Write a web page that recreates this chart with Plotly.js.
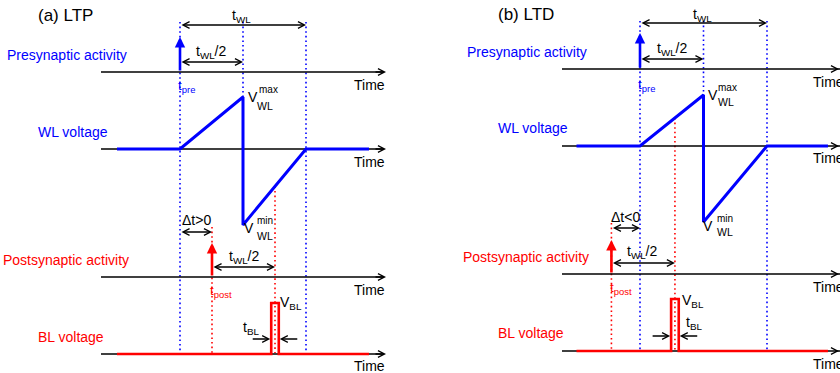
<!DOCTYPE html>
<html><head><meta charset="utf-8">
<script src="https://cdn.plot.ly/plotly-3.0.1.min.js"></script>
<style>html,body{margin:0;padding:0;background:#fff}#chart{width:840px;height:373px}</style>
</head><body><div id="chart"></div>
<script>
// ---------------- data (time in units of t_WL, voltages normalised) ----------------
const panelTitles = ['(a) LTP', '(b) LTD'];
const deltaLabels = ['\u0394t>0', '\u0394t<0'];
const rowLabels = ['Presynaptic activity', 'WL voltage', 'Postsynaptic activity', 'BL voltage'];
const axisLabel = 'Time';
const tPre = [0, 0];
const tPost = [0.254, -0.225];
const tWL = 1;
const spikeHeight = [1, 1];
// WL voltage waveform (sawtooth)
const wlTimeA = [-0.5, 0, 0.5, 0.5, 1, 1.5];
const wlVoltA = [0, 0, 1, -1.46, 0, 0];
const wlTimeB = [-0.5, 0, 0.5, 0.5, 1, 1.48];
const wlVoltB = [0, 0, 1, -1.49, 0, 0];
// BL voltage waveform (short pulse of width t_BL at t_post + t_WL/2)
const blTimeA = [-0.5, 0.724, 0.724, 0.784, 0.784, 1.5];
const blVoltA = [0, 0, 1, 1, 0, 0];
const blTimeB = [-0.5, 0.245, 0.245, 0.305, 0.305, 1.48];
const blVoltB = [0, 0, 1, 1, 0, 0];

// ---------------- geometry / styling ----------------
const W = 840, H = 373;
const BLUE = '#0000ff', RED = '#ff0000', BLACK = '#000000';
const FONT = 'Liberation Sans, Arial, Helvetica, sans-serif';
const geo = [
  {x0: 180, k: 126, rows: [[72, 35], [149, 52], [277, 34], [354, 51]], axS: 101, axE: 386,
   dotTop: 22, dotBot: 353, yTWL: 25, yTWL2: 62, yDt: 232, yTWL2b: 267, yTBL: 339},
  {x0: 640, k: 127, rows: [[69, 36], [146, 51], [274, 34], [351, 52]], axS: 562, axE: 846,
   dotTop: 21, dotBot: 350, yTWL: 23, yTWL2: 59, yDt: 228, yTWL2b: 263, yTBL: 336}
];
const P = (py) => 1 - py / H;
const layout = {
  width: W, height: H, margin: {l: 0, r: 0, t: 0, b: 0},
  paper_bgcolor: '#fff', plot_bgcolor: 'rgba(0,0,0,0)', showlegend: false,
  font: {family: FONT, size: 14, color: BLACK},
  shapes: [], annotations: []
};
// x axes: one per panel, y axes: one per row per panel
geo.forEach((g, p) => {
  const xn = p === 0 ? 'xaxis' : 'xaxis2';
  layout[xn] = {range: [-g.x0 / g.k, (W - g.x0) / g.k], domain: [0, 1], visible: false, fixedrange: true};
  if (p === 1) layout[xn].overlaying = 'x';
  g.rows.forEach((r, i) => {
    const id = p * 4 + i + 1;
    const yn = id === 1 ? 'yaxis' : 'yaxis' + id;
    const [b, A] = r;
    layout[yn] = {range: [(b - H) / A, b / A], domain: [0, 1], visible: false, fixedrange: true,
                  anchor: p === 0 ? 'x' : 'x2'};
    if (id > 1) layout[yn].overlaying = 'y';
  });
});
const xr = (p) => p === 0 ? 'x' : 'x2';
const yr = (p, i) => { const id = p * 4 + i + 1; return id === 1 ? 'y' : 'y' + id; };

// ---------------- traces ----------------
const traces = [
  {x: wlTimeA, y: wlVoltA, xaxis: 'x', yaxis: yr(0, 1), mode: 'lines', line: {color: BLUE, width: 3}, hoverinfo: 'skip'},
  {x: blTimeA, y: blVoltA, xaxis: 'x', yaxis: yr(0, 3), mode: 'lines', line: {color: RED, width: 2.6}, hoverinfo: 'skip'},
  {x: wlTimeB, y: wlVoltB, xaxis: 'x2', yaxis: yr(1, 1), mode: 'lines', line: {color: BLUE, width: 3}, hoverinfo: 'skip'},
  {x: blTimeB, y: blVoltB, xaxis: 'x2', yaxis: yr(1, 3), mode: 'lines', line: {color: RED, width: 2.6}, hoverinfo: 'skip'}
];
const blTimes = [blTimeA, blTimeB];

// ---------------- helpers ----------------
function txt(text, px, py, o) {
  o = o || {};
  return {text: text, xref: 'paper', yref: 'paper', x: px / W, y: P(py),
    xanchor: o.xa || 'left', yanchor: 'middle', showarrow: false, borderpad: 0, borderwidth: 0,
    font: {family: FONT, size: o.size || 14, color: o.color || BLACK}};
}
function dotted(p, t, yTop, yBot, color) {
  layout.shapes.push({type: 'line', layer: 'below', xref: xr(p), yref: 'paper', x0: t, x1: t, y0: P(yTop), y1: P(yBot),
    line: {color: color, width: 1.6, dash: '1.6px,3px'}});
}
function dbl(p, tA, tB, py) {
  layout.annotations.push({xref: xr(p), yref: 'paper', x: tB, y: P(py), axref: xr(p), ayref: 'pixel', ax: tA, ay: 0,
    text: '', showarrow: true, arrowside: 'end+start', arrowhead: 5, startarrowhead: 5,
    arrowsize: 1, startarrowsize: 1, arrowwidth: 1.3, arrowcolor: BLACK, standoff: 0, startstandoff: 0});
}
function spike(p, row, t, h, color) {
  layout.annotations.push({xref: xr(p), yref: yr(p, row), x: t, y: h, axref: xr(p), ayref: yr(p, row), ax: t, ay: 0,
    text: '', showarrow: true, arrowhead: 2, arrowsize: 0.8, arrowwidth: 2.6, arrowcolor: color, standoff: 0});
}

// ---------------- build ----------------
geo.forEach((g, p) => {
  const pre = tPre[p], post = tPost[p];
  const bl = blTimes[p];
  const wv = p === 0 ? wlVoltA : wlVoltB;
  // dotted guides
  dotted(p, pre, g.dotTop, g.dotBot, BLUE);
  dotted(p, pre + tWL / 2, g.dotTop, g.rows[1][0] - wv[2] * g.rows[1][1], BLUE);
  dotted(p, pre + tWL, g.dotTop, g.dotBot, BLUE);
  dotted(p, post, g.yDt - 5, g.dotBot, RED);
  // red guide at t_post + t_WL/2, starting where it meets the WL waveform
  const tr = post + tWL / 2;
  const v = tr < pre + tWL / 2 ? wv[2] * (tr - pre) / (tWL / 2) : wv[3] * (1 - (tr - pre - tWL / 2) / (tWL / 2));
  dotted(p, tr, g.rows[1][0] - v * g.rows[1][1], g.dotBot, RED);
  // time axes: line below traces, arrow head on top
  g.rows.forEach((r) => {
    layout.shapes.push({type: 'line', layer: 'below', xref: 'paper', yref: 'paper', x0: g.axS / W, x1: (g.axE - 3) / W,
      y0: P(r[0]), y1: P(r[0]), line: {color: BLACK, width: 1.3}});
    layout.annotations.push({xref: 'paper', yref: 'paper', x: g.axE / W, y: P(r[0]), axref: 'pixel', ayref: 'pixel',
      ax: -12, ay: 0, text: '', showarrow: true, arrowhead: 5, arrowsize: 1, arrowwidth: 1.3,
      arrowcolor: BLACK, standoff: 0});
  });
  // spikes
  spike(p, 0, pre, spikeHeight[p], BLUE);
  spike(p, 2, post, spikeHeight[p], RED);
  // interval arrows
  dbl(p, pre, pre + tWL, g.yTWL);
  dbl(p, pre, pre + tWL / 2, g.yTWL2);
  dbl(p, Math.min(pre, post), Math.max(pre, post), g.yDt);
  dbl(p, post, post + tWL / 2, g.yTWL2b);
  // t_BL inward arrows
  layout.annotations.push({xref: xr(p), yref: 'paper', x: bl[1], y: P(g.yTBL), axref: 'pixel', ayref: 'pixel', ax: -20, ay: 0,
    text: '', showarrow: true, arrowhead: 5, arrowsize: 1, arrowwidth: 1.3, arrowcolor: BLACK, standoff: 1});
  layout.annotations.push({xref: xr(p), yref: 'paper', x: bl[3], y: P(g.yTBL), axref: 'pixel', ayref: 'pixel', ax: 20, ay: 0,
    text: '', showarrow: true, arrowhead: 5, arrowsize: 1, arrowwidth: 1.3, arrowcolor: BLACK, standoff: 1});
});

const A = layout.annotations;
// panel (a) texts
A.push(txt(panelTitles[0], 38, 15, {size: 17}));
A.push(txt('t<sub>WL</sub>', 242, 16, {xa: 'center'}));
A.push(txt('t<sub>WL</sub>/2', 211, 52, {xa: 'center'}));
A.push(txt(rowLabels[0], 7, 55, {color: BLUE}));
A.push(txt('t<sub>pre</sub>', 178, 87, {size: 13.5, color: BLUE}));
[85, 162, 290, 366].forEach(y => A.push(txt(axisLabel, 385, y, {xa: 'right'})));
A.push(txt('V', 248, 97));
A.push(txt('max', 259, 90, {size: 10}));
A.push(txt('WL', 257, 106, {size: 10.5}));
A.push(txt(rowLabels[1], 38, 132, {color: BLUE}));
A.push(txt('V', 244, 228));
A.push(txt('min', 257, 221, {size: 10}));
A.push(txt('WL', 257, 236, {size: 10.5}));
A.push(txt(deltaLabels[0], 196, 220, {xa: 'center'}));
A.push(txt(rowLabels[2], 3, 260, {color: RED}));
A.push(txt('t<sub>WL</sub>/2', 244, 257, {xa: 'center'}));
A.push(txt('t<sub>post</sub>', 210, 291, {size: 13.5, color: RED}));
A.push(txt('V<sub>BL</sub>', 280, 303));
A.push(txt('t<sub>BL</sub>', 243, 328));
A.push(txt(rowLabels[3], 38, 337, {color: RED}));
// panel (b) texts
A.push(txt(panelTitles[1], 498, 14, {size: 17}));
A.push(txt('t<sub>WL</sub>', 702, 15, {xa: 'center'}));
A.push(txt('t<sub>WL</sub>/2', 672, 49, {xa: 'center'}));
A.push(txt(rowLabels[0], 467, 52, {color: BLUE}));
A.push(txt('t<sub>pre</sub>', 638, 85, {size: 13.5, color: BLUE}));
[82, 158, 287, 364].forEach(y => A.push(txt(axisLabel, 813, y)));
A.push(txt('V', 708, 95));
A.push(txt('max', 718, 88, {size: 10}));
A.push(txt('WL', 718, 102, {size: 10.5}));
A.push(txt(rowLabels[1], 498, 128, {color: BLUE}));
A.push(txt('V', 703, 226));
A.push(txt('min', 717, 219, {size: 10}));
A.push(txt('WL', 717, 232, {size: 10.5}));
A.push(txt(deltaLabels[1], 625, 217, {xa: 'center'}));
A.push(txt(rowLabels[2], 463, 257, {color: RED}));
A.push(txt('t<sub>WL</sub>/2', 642, 252, {xa: 'center'}));
A.push(txt('t<sub>post</sub>', 610, 288, {size: 13.5, color: RED}));
A.push(txt('V<sub>BL</sub>', 682, 301));
A.push(txt('t<sub>BL</sub>', 686, 323));
A.push(txt(rowLabels[3], 498, 333, {color: RED}));

Plotly.newPlot('chart', traces, layout, {displayModeBar: false, staticPlot: true});
</script>
</body></html>
